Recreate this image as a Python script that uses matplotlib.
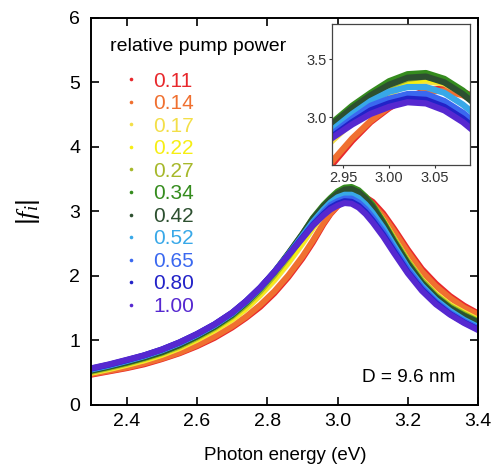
import matplotlib
matplotlib.use("Agg")
import matplotlib.pyplot as plt
from matplotlib.lines import Line2D

plt.rcParams['font.family'] = ['Liberation Sans', 'DejaVu Sans']
plt.rcParams['mathtext.fontset'] = 'custom'
plt.rcParams['mathtext.it'] = 'Liberation Serif:italic'
plt.rcParams['mathtext.rm'] = 'Liberation Sans'

# Photon energy grid (eV)
energy = [2.30, 2.35, 2.40, 2.45, 2.50, 2.55, 2.60, 2.65, 2.70, 2.74, 2.78, 2.82,
          2.86, 2.90, 2.93, 2.96, 2.98, 3.00, 3.02, 3.04, 3.06, 3.08, 3.10, 3.13,
          3.16, 3.20, 3.24, 3.28, 3.32, 3.36, 3.40]

powers = ["0.11", "0.14", "0.17", "0.22", "0.27", "0.34", "0.42", "0.52", "0.65", "0.80", "1.00"]
colors = ['#e8282c', '#f07030', '#f3df48', '#f6ee14', '#a6b82a', '#358c1e',
          '#2d5030', '#38a8e8', '#3a68f0', '#2222c8', '#5628d0']

f_011 = [0.47, 0.52, 0.57, 0.63, 0.71, 0.80, 0.91, 1.04, 1.20, 1.35, 1.52, 1.73,
         1.98, 2.27, 2.52, 2.80, 2.96, 3.08, 3.17, 3.23, 3.25, 3.22, 3.15, 2.97,
         2.74, 2.41, 2.11, 1.88, 1.69, 1.54, 1.42]
f_014 = [0.48, 0.53, 0.58, 0.645, 0.72, 0.81, 0.925, 1.06, 1.22, 1.37, 1.55, 1.76,
         2.01, 2.30, 2.55, 2.82, 2.97, 3.09, 3.17, 3.22, 3.23, 3.19, 3.11, 2.93,
         2.70, 2.37, 2.07, 1.84, 1.66, 1.51, 1.40]
f_017 = [0.50, 0.555, 0.62, 0.69, 0.775, 0.88, 1.01, 1.155, 1.32, 1.49, 1.70, 1.93,
         2.20, 2.50, 2.74, 2.96, 3.09, 3.20, 3.28, 3.31, 3.29, 3.21, 3.09, 2.86,
         2.59, 2.24, 1.94, 1.72, 1.55, 1.43, 1.32]
f_022 = [0.505, 0.565, 0.63, 0.70, 0.785, 0.89, 1.02, 1.17, 1.34, 1.51, 1.72, 1.96,
         2.23, 2.53, 2.77, 2.99, 3.12, 3.23, 3.30, 3.33, 3.30, 3.21, 3.09, 2.85,
         2.58, 2.23, 1.93, 1.71, 1.54, 1.42, 1.31]
f_027 = [0.515, 0.575, 0.64, 0.715, 0.80, 0.905, 1.04, 1.19, 1.37, 1.55, 1.76, 2.01,
         2.29, 2.60, 2.84, 3.05, 3.17, 3.27, 3.33, 3.35, 3.31, 3.22, 3.10, 2.85,
         2.58, 2.23, 1.93, 1.70, 1.53, 1.41, 1.30]
f_034 = [0.53, 0.59, 0.655, 0.73, 0.815, 0.925, 1.06, 1.21, 1.39, 1.58, 1.80, 2.05,
         2.34, 2.65, 2.90, 3.10, 3.21, 3.31, 3.37, 3.38, 3.33, 3.23, 3.10, 2.84,
         2.55, 2.20, 1.90, 1.68, 1.51, 1.39, 1.29]
f_042 = [0.535, 0.595, 0.66, 0.735, 0.82, 0.93, 1.065, 1.215, 1.40, 1.59, 1.81, 2.06,
         2.35, 2.65, 2.89, 3.08, 3.19, 3.28, 3.34, 3.35, 3.30, 3.20, 3.07, 2.82,
         2.54, 2.19, 1.89, 1.67, 1.50, 1.38, 1.28]
f_052 = [0.55, 0.61, 0.68, 0.755, 0.845, 0.955, 1.085, 1.235, 1.415, 1.60, 1.81, 2.06,
         2.33, 2.62, 2.84, 3.03, 3.14, 3.22, 3.26, 3.26, 3.21, 3.11, 2.98, 2.75,
         2.48, 2.13, 1.85, 1.63, 1.46, 1.32, 1.21]
f_065 = [0.56, 0.62, 0.69, 0.765, 0.855, 0.965, 1.095, 1.245, 1.425, 1.61, 1.815, 2.06,
         2.33, 2.60, 2.81, 2.99, 3.10, 3.16, 3.20, 3.20, 3.14, 3.04, 2.91, 2.69,
         2.43, 2.10, 1.82, 1.60, 1.43, 1.30, 1.19]
f_080 = [0.565, 0.625, 0.695, 0.77, 0.86, 0.97, 1.10, 1.25, 1.43, 1.61, 1.82, 2.06,
         2.32, 2.59, 2.79, 2.96, 3.06, 3.12, 3.16, 3.15, 3.09, 2.99, 2.86, 2.64,
         2.39, 2.06, 1.79, 1.58, 1.41, 1.28, 1.17]
f_100 = [0.57, 0.63, 0.70, 0.77, 0.86, 0.97, 1.10, 1.25, 1.43, 1.61, 1.82, 2.06,
         2.32, 2.58, 2.78, 2.94, 3.03, 3.09, 3.13, 3.12, 3.06, 2.96, 2.83, 2.61,
         2.36, 2.04, 1.77, 1.56, 1.40, 1.27, 1.16]

series = [f_011, f_014, f_017, f_022, f_027, f_034, f_042, f_052, f_065, f_080, f_100]

x_ticks = [2.4, 2.6, 2.8, 3.0, 3.2, 3.4]
y_ticks = [0, 1, 2, 3, 4, 5, 6]
inset_x_ticks = [2.95, 3.00, 3.05]
inset_y_ticks = [3.0, 3.5]

fig = plt.figure(figsize=(4.97, 4.72), dpi=100)
fig.patch.set_facecolor('white')
ax = fig.add_axes([0.184, 0.142, 0.778, 0.820])

for vals, c in zip(series, colors):
    ax.plot(energy, vals, color=c, lw=4.3, solid_capstyle='round', solid_joinstyle='round')

ax.set_xlim(2.3, 3.4)
ax.set_ylim(0, 6)
ax.set_xticks(x_ticks)
ax.set_xticklabels([f"{t:.1f}" for t in x_ticks])
ax.set_yticks(y_ticks)
ax.tick_params(direction='in', length=6, width=1.2, top=True, right=True,
               labelsize=14, pad=6)
ax.tick_params(axis='y', pad=8)
for s in ax.spines.values():
    s.set_linewidth(1.4)
ax.set_xlabel("Photon energy (eV)", fontsize=13.5, labelpad=12)
ax.set_ylabel(r"$|\mathit{f}_{i}|$", fontsize=19, labelpad=20)

ax.text(0.94, 0.07, "D = 9.6 nm", transform=ax.transAxes, fontsize=13.7,
        ha='right', va='center')

ax.text(0.049, 0.925, "relative pump power", transform=ax.transAxes,
        fontsize=14, ha='left', va='center')

handles = [Line2D([], [], ls='none', marker='o', markersize=2.6, color=c,
                  markeredgewidth=0) for c in colors]
leg = ax.legend(handles, powers, loc='upper left',
                bbox_to_anchor=(0.049, 0.883), frameon=False, fontsize=15,
                labelcolor=colors, handlelength=1.2, handletextpad=0.45,
                labelspacing=0.17, borderaxespad=0.0)

# Inset
axi = fig.add_axes([0.668, 0.650, 0.278, 0.299])
for vals, c in zip(series, colors):
    axi.plot(energy, vals, color=c, lw=4.5, solid_capstyle='round', solid_joinstyle='round')
axi.set_xlim(2.938, 3.088)
axi.set_ylim(2.59, 3.80)
axi.set_xticks(inset_x_ticks)
axi.set_xticklabels([f"{t:.2f}" for t in inset_x_ticks])
axi.set_yticks(inset_y_ticks)
axi.set_yticklabels([f"{t:.1f}" for t in inset_y_ticks])
axi.tick_params(direction='out', length=2, width=0.8, labelsize=10.5,
                colors='#333333', pad=2)
for s in axi.spines.values():
    s.set_linewidth(0.9)
    s.set_color('#444444')

fig.savefig("out.png", dpi=100, facecolor='white')
